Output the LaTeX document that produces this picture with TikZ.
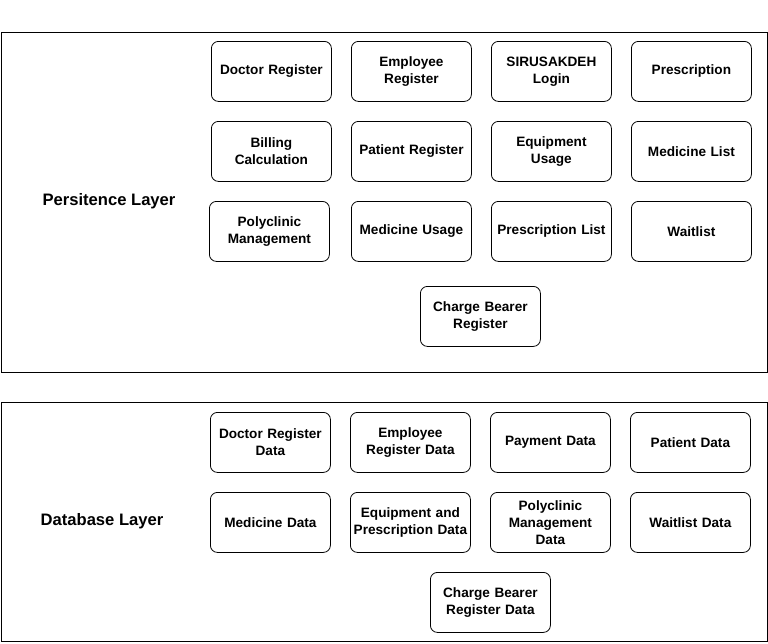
\documentclass[tikz,border=0pt]{standalone}
\usepackage{fontspec}
\setmainfont{Liberation Sans}
\begin{document}
\begin{tikzpicture}[x=1pt,y=-1pt,
  layer/.style={draw,line width=0.8pt},
  box/.style={draw,rounded corners=7pt,line width=0.8pt,minimum width=120pt,minimum height=60pt,
    align=center,font=\bfseries\fontsize{13.6}{17}\selectfont,inner sep=1pt,anchor=north west,text width=118pt},
  lbl/.style={font=\bfseries\fontsize{16.6}{19}\selectfont}]
\useasboundingbox (0,0) rectangle (768,643);
\draw[layer] (1,32) rectangle (767,372);
\draw[layer] (1,402) rectangle (767,641);
\node[lbl] (pl) at (109,201) {Persitence Layer};
\node[lbl] (dl) at (102,521) {Database Layer};
% persistence
\node[box] (p1) at (211,41) {Doctor Register};
\node[box] (p2) at (351,41) {Employee\\Register};
\node[box] (p3) at (491,41) {SIRUSAKDEH\\Login};
\node[box] (p4) at (631,41) {Prescription};
\node[box] (p5) at (211,121) {Billing\\Calculation};
\node[box] (p6) at (351,121) {Patient Register};
\node[box] (p7) at (491,121) {Equipment\\Usage};
\node[box] (p8) at (631,121) {Medicine List};
\node[box] (p9) at (209,201) {Polyclinic\\Management};
\node[box] (p10) at (351,201) {Medicine Usage};
\node[box] (p11) at (491,201) {Prescription List};
\node[box] (p12) at (631,201) {Waitlist};
\node[box] (p13) at (420,286) {Charge Bearer\\Register};
% database
\node[box] (d1) at (210,412) {Doctor Register\\Data};
\node[box] (d2) at (350,412) {Employee\\Register Data};
\node[box] (d3) at (490,412) {Payment Data};
\node[box] (d4) at (630,412) {Patient Data};
\node[box] (d5) at (210,492) {Medicine Data};
\node[box] (d6) at (350,492) {Equipment and\\Prescription Data};
\node[box] (d7) at (490,492) {Polyclinic\\Management\\Data};
\node[box] (d8) at (630,492) {Waitlist Data};
\node[box] (d9) at (430,572) {Charge Bearer\\Register Data};
\end{tikzpicture}
\end{document}
